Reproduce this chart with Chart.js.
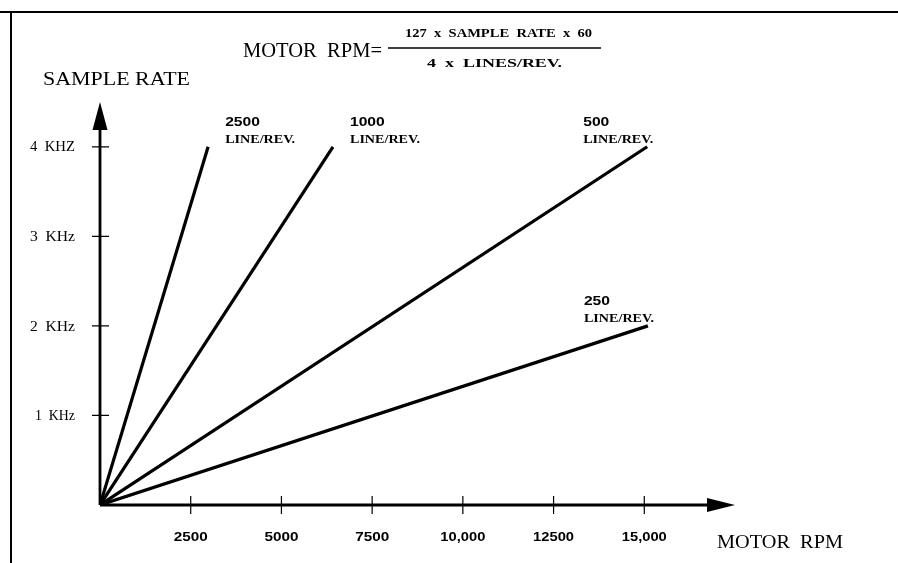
<!DOCTYPE html>
<html>
<head>
<meta charset="utf-8">
<script src="https://cdn.jsdelivr.net/npm/chart.js@4.4.1/dist/chart.umd.min.js"></script>
<style>
  html, body { margin: 0; padding: 0; background: #fff; }
  #wrap { width: 898px; height: 563px; position: relative; }
</style>
</head>
<body>
<div id="wrap"><canvas id="myChart" width="898" height="563"></canvas></div>
<script>
// line resolutions and where each line ends
var lineRates = ['2500', '1000', '500', '250'];
var startRpm = [0, 0, 0, 0];
var startKhz = [0, 0, 0, 0];
var endRpm = [2980, 6420, 15080, 15100];
var endKhz = [4, 4, 4, 2];

// axis ticks
var xTicks = [2500, 5000, 7500, 10000, 12500, 15000];
var xTickLabels = ['2500', '5000', '7500', '10,000', '12500', '15,000'];
var yTicks = [1, 2, 3, 4];
var yTickLabels = ['1  KHz', '2  KHz', '3  KHz', '4  KHZ'];

var SERIF = '"Liberation Serif", "DejaVu Serif", serif';
var SANS = '"Liberation Sans", Arial, sans-serif';

// draw text squeezed/stretched to a given width
function fitText(c, str, x, y, font, w, align) {
    c.save();
    c.font = font;
    c.textBaseline = 'middle';
    c.textAlign = 'left';
    var mw = c.measureText(str).width;
    var s = w ? w / mw : 1;
    var left = x;
    if (align === 'center') left = x - mw * s / 2;
    if (align === 'right') left = x - mw * s;
    c.translate(left, y);
    c.scale(s, 1);
    c.fillText(str, 0, 0);
    c.restore();
}

var datasets = [];
for (var i = 0; i < lineRates.length; i++) {
    datasets.push({
        label: lineRates[i] + ' LINE/REV.',
        data: [{x: startRpm[i], y: startKhz[i]}, {x: endRpm[i], y: endKhz[i]}],
        showLine: true,
        borderColor: '#000',
        borderWidth: 3.2,
        pointRadius: 0,
        borderCapStyle: 'butt',
        tension: 0
    });
}

var axesPlugin = {
    id: 'axesPlugin',
    beforeDatasetsDraw: function (chart) {
        var c = chart.ctx;
        var xs = chart.scales.x, ys = chart.scales.y;
        var x0 = xs.getPixelForValue(0), y0 = ys.getPixelForValue(0);
        var xEnd = xs.getPixelForValue(xs.max), yEnd = ys.getPixelForValue(ys.max);
        c.save();
        c.fillStyle = '#000';
        c.strokeStyle = '#000';

        // frame
        c.lineWidth = 2;
        c.beginPath();
        c.moveTo(0, 12); c.lineTo(898, 12);
        c.moveTo(11, 12); c.lineTo(11, 563);
        c.stroke();

        // axes
        c.lineWidth = 2.8;
        c.beginPath();
        c.moveTo(x0, y0); c.lineTo(xEnd - 20, y0);
        c.moveTo(x0, y0); c.lineTo(x0, yEnd + 20);
        c.stroke();
        // arrow heads
        c.beginPath();
        c.moveTo(xEnd, y0); c.lineTo(xEnd - 28, y0 - 7); c.lineTo(xEnd - 28, y0 + 7); c.closePath();
        c.fill();
        c.beginPath();
        c.moveTo(x0, yEnd); c.lineTo(x0 - 7.5, yEnd + 28); c.lineTo(x0 + 7.5, yEnd + 28); c.closePath();
        c.fill();

        // ticks crossing the axes
        c.lineWidth = 1.2;
        c.beginPath();
        xTicks.forEach(function (v) {
            var px = xs.getPixelForValue(v);
            c.moveTo(px, y0 - 9); c.lineTo(px, y0 + 9);
        });
        yTicks.forEach(function (v) {
            var py = ys.getPixelForValue(v);
            c.moveTo(x0 - 8, py); c.lineTo(x0 + 9, py);
        });
        c.stroke();

        // tick labels
        var xw = [34, 34, 34, 45, 41, 45];
        xTicks.forEach(function (v, k) {
            fitText(c, xTickLabels[k], xs.getPixelForValue(v), y0 + 33, 'bold 12px ' + SANS, xw[k], 'center');
        });
        yTicks.forEach(function (v, k) {
            var w = k === 0 ? 40 : 45;
            fitText(c, yTickLabels[k], x0 - 25, ys.getPixelForValue(v) + 1, '14px ' + SERIF, w, 'right');
        });

        // axis titles
        fitText(c, 'SAMPLE RATE', 43, 80, '19px ' + SERIF, 147, 'left');
        fitText(c, 'MOTOR  RPM', 717, 543, '19px ' + SERIF, 126, 'left');

        // formula
        fitText(c, 'MOTOR  RPM=', 243, 52, '20px ' + SERIF, 139, 'left');
        fitText(c, '127  x  SAMPLE  RATE  x  60', 405, 34, 'bold 12px ' + SERIF, 187, 'left');
        c.lineWidth = 1.5;
        c.beginPath();
        c.moveTo(388, 48); c.lineTo(601, 48);
        c.stroke();
        fitText(c, '4  x  LINES/REV.', 427, 64, 'bold 12px ' + SERIF, 135, 'left');
        c.restore();
    },
    afterDatasetsDraw: function (chart) {
        var c = chart.ctx;
        var xs = chart.scales.x, ys = chart.scales.y;
        // labels next to line ends
        var offX = [17, 17, -64, -64];
        for (var i = 0; i < lineRates.length; i++) {
            var px = xs.getPixelForValue(endRpm[i]) + offX[i];
            var py = ys.getPixelForValue(endKhz[i]);
            c.save();
            c.fillStyle = '#000';
            fitText(c, lineRates[i], px, py - 24, 'bold 12px ' + SANS, lineRates[i].length * 8.7, 'left');
            fitText(c, 'LINE/REV.', px, py - 7, 'bold 13px ' + SERIF, 70, 'left');
            c.restore();
        }
    }
};

var ctx = document.getElementById('myChart');
var myChart = new Chart(ctx, {
    type: 'scatter',
    data: {datasets: datasets},
    options: {
        responsive: false,
        animation: false,
        layout: {padding: {left: 100, right: 163, top: 102, bottom: 58}},
        plugins: {legend: {display: false}, tooltip: {enabled: false}},
        scales: {
            x: {type: 'linear', min: 0, max: 17500, display: false},
            y: {type: 'linear', min: 0, max: 4.5, display: false}
        }
    },
    plugins: [axesPlugin]
});
</script>
</body>
</html>
